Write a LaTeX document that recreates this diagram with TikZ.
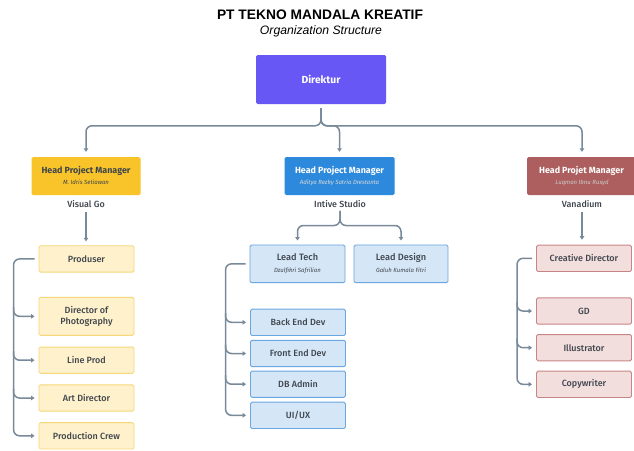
\documentclass[tikz,border=0pt]{standalone}
\usepackage{fontspec}
\setmainfont{Fira Sans}
\newfontfamily\titlefont{Liberation Sans}
\newfontfamily\medfont{Fira Sans Medium}
\usetikzlibrary{arrows.meta}
\definecolor{dirc}{HTML}{6758F6}
\definecolor{yhead}{HTML}{F8C42A}
\definecolor{bhead}{HTML}{2D89DB}
\definecolor{rhead}{HTML}{AD5F5F}
\definecolor{yfill}{HTML}{FEF1CB}
\definecolor{ydraw}{HTML}{F6D77A}
\definecolor{bfill}{HTML}{D5E6F7}
\definecolor{bdraw}{HTML}{6AA6E0}
\definecolor{rfill}{HTML}{F3DEDE}
\definecolor{rdraw}{HTML}{C98585}
\definecolor{connc}{HTML}{78899A}
\definecolor{txtc}{HTML}{3F454C}
\tikzset{
  x=1pt,y=-1pt,
  boxbase/.style={rectangle,rounded corners=1.5pt,inner sep=1pt,align=center},
  headbox/.style={boxbase,minimum width=109pt,minimum height=38pt},
  lowbox/.style={boxbase,minimum width=95pt,minimum height=26.3pt,line width=0.9pt,text=txtc,font=\medfont\fontsize{9}{11}\selectfont},
  ybox/.style={lowbox,fill=yfill,draw=ydraw},
  bbox/.style={lowbox,fill=bfill,draw=bdraw},
  rbox/.style={lowbox,fill=rfill,draw=rdraw},
  headtext/.style={font=\bfseries\fontsize{8.9}{10}\selectfont},
  nametext/.style={font=\itshape\fontsize{6}{7}\selectfont},
  grouplabel/.style={font=\medfont\fontsize{8.9}{10}\selectfont,text=txtc,inner sep=1pt},
  conn/.style={draw=connc,line width=1.5pt,rounded corners=6pt,-{Triangle[width=4.5pt,length=3.5pt]}},
}
\begin{document}
\begin{tikzpicture}
\useasboundingbox (0,0) rectangle (634,450);
\fill[white] (0,0) rectangle (634,450);
% titles
\node (title) at (320,14.5) {\titlefont\bfseries\fontsize{13.8}{15}\selectfont PT TEKNO MANDALA KREATIF};
\node (sub) at (321,31.5) {\titlefont\itshape\fontsize{12.2}{14}\selectfont Organization Structure};
% director
\node[boxbase,fill=dirc,text=white,minimum width=130pt,minimum height=49pt,font=\bfseries\fontsize{10.3}{12}\selectfont] (dir) at (321,79.5) {Direktur};
% heads
\node[headbox,fill=yhead,text=txtc] (hy) at (86,176) {};
\node[headtext,text=txtc] (hyt) at (86,170.5) {Head Project Manager};
\node[nametext,text=txtc] (hyn) at (86,182.5) {M. Idris Setiawan};
\node[headbox,fill=bhead,text=white,minimum width=110pt] (hb) at (339.5,176) {};
\node[headtext,text=white] (hbt) at (339.5,170.5) {Head Project Manager};
\node[nametext,text=white!85!black] (hbn) at (339.5,182.5) {Aditya Rezky Satria Drestanta};
\node[headbox,fill=rhead,text=white,minimum width=110pt] (hr) at (582,176) {};
\node[headtext,text=white] (hrt) at (581.5,170.5) {Head Projet Manager};
\node[nametext,text=white!80!black] (hrn) at (582,182.5) {Luqman Ibnu Rusyd};
% group labels
\node[grouplabel] (vg) at (86,204.5) {Visual Go};
\node[grouplabel] (is) at (340,204) {Intive Studio};
\node[grouplabel] (va) at (582,204) {Vanadium};
% yellow column
\node[ybox] (prod) at (86.5,258.9) {Produser};
\node[ybox,minimum height=38pt] (dop) at (86.5,316.3) {Director of\\Photography};
\node[ybox] (lp) at (86.5,360.2) {Line Prod};
\node[ybox] (ad) at (86.5,398) {Art Director};
\node[ybox] (pc) at (86.5,435.8) {Production Crew};
% blue column
\node[bbox,minimum height=37.7pt] (lt) at (297.5,263.8) {};
\node[text=txtc,font=\medfont\fontsize{9.2}{10}\selectfont] (ltt) at (297.5,257.5) {Lead Tech};
\node[nametext,text=txtc] (ltn) at (297.5,270.5) {Dzulfikri Safrilian};
\node[bbox,minimum height=37.7pt,minimum width=94pt] (ld) at (401,263.8) {};
\node[text=txtc,font=\medfont\fontsize{9.2}{10}\selectfont] (ldt) at (401,257.5) {Lead Design};
\node[nametext,text=txtc] (ldn) at (401,270.5) {Galuh Kumala Fitri};
\node[bbox] (bed) at (298,322.3) {Back End Dev};
\node[bbox] (fed) at (298,353.5) {Front End Dev};
\node[bbox] (dba) at (298,384.2) {DB Admin};
\node[bbox] (uiux) at (298,415.3) {UI/UX};
% red column
\node[rbox] (cd) at (584,258.3) {Creative Director};
\node[rbox] (gd) at (584,311) {GD};
\node[rbox] (il) at (584,347.7) {Illustrator};
\node[rbox] (cw) at (584,384.3) {Copywriter};
% director connectors
\draw[conn] ([yshift=-4pt]dir.south) |- ([yshift=31pt]hy.north) -- ([yshift=5pt]hy.north);
\draw[conn] ([yshift=-4pt]dir.south) |- ([yshift=31pt]hb.north) -- ([yshift=5pt]hb.north);
\draw[conn] ([yshift=-4pt]dir.south) |- ([yshift=31pt]hr.north) -- ([yshift=5pt]hr.north);
% group to first box
\draw[conn] ([yshift=-3pt]vg.south) -- ([yshift=4pt]prod.north -| vg.south);
\draw[conn] ([yshift=-2pt]is.south) |- ([yshift=19pt]lt.north) -- ([yshift=4pt]lt.north);
\draw[conn] ([yshift=-2pt]is.south) |- ([yshift=19pt]ld.north) -- ([yshift=4pt]ld.north);
\draw[conn] ([yshift=-3pt]va.south) -- ([yshift=5pt]cd.north -| va.south);
% yellow bracket
\coordinate (yb) at ([xshift=-25pt]prod.west);
\draw[conn] ([xshift=-4pt]prod.west) -- (yb) |- ([xshift=-4pt]pc.west);
\foreach \n in {dop,lp,ad}
  \draw[conn] ([yshift=9pt]yb |- \n.west) -- (yb |- \n.west) -- ([xshift=-4pt]\n.west);
% blue bracket
\coordinate (bb) at ([xshift=-24pt]lt.west);
\draw[conn] ([xshift=-4pt]lt.west) -- (bb) |- ([xshift=-4pt]uiux.west);
\foreach \n in {bed,fed,dba}
  \draw[conn] ([yshift=9pt]bb |- \n.west) -- (bb |- \n.west) -- ([xshift=-4pt]\n.west);
% red bracket
\coordinate (rb) at ([xshift=-19pt]cd.west);
\draw[conn] ([xshift=-4pt]cd.west) -- (rb) |- ([xshift=-4pt]cw.west);
\foreach \n in {gd,il}
  \draw[conn] ([yshift=9pt]rb |- \n.west) -- (rb |- \n.west) -- ([xshift=-4pt]\n.west);
\end{tikzpicture}
\end{document}
